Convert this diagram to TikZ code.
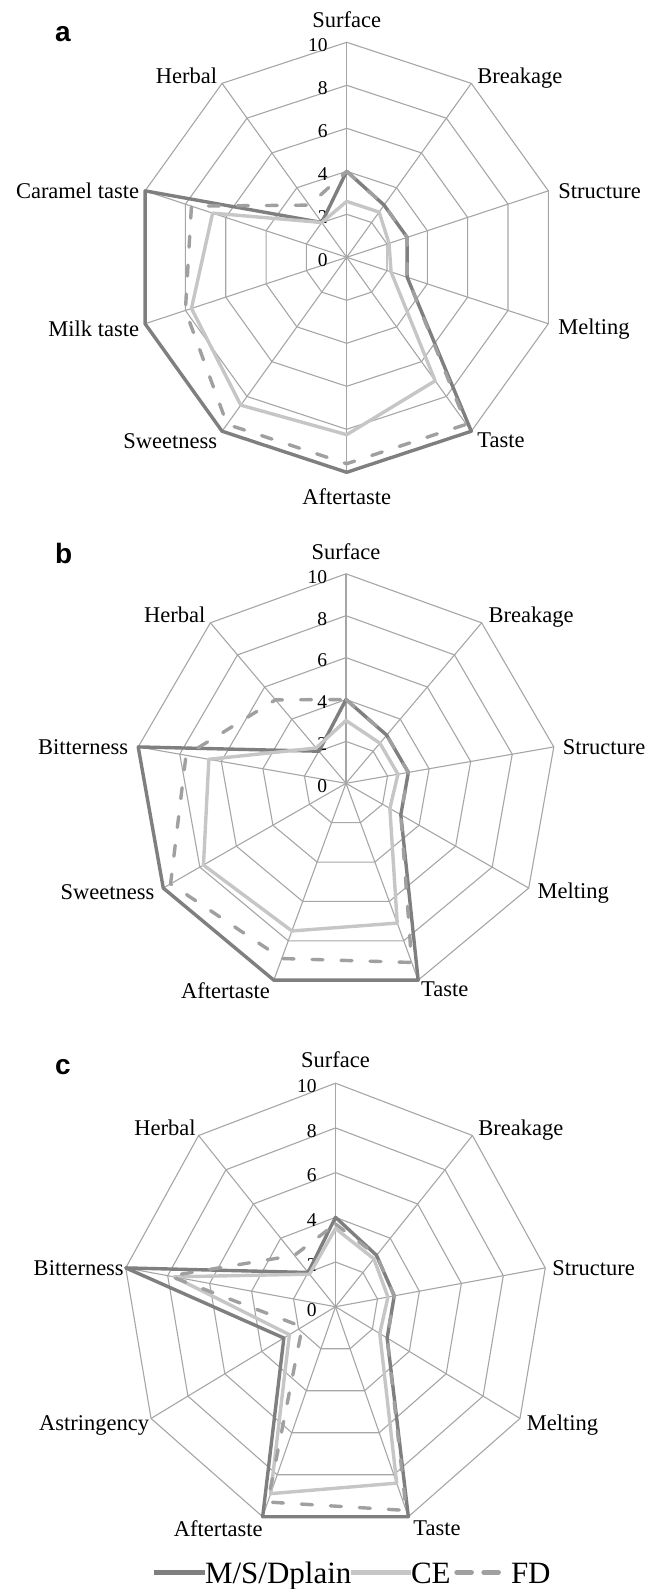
\documentclass[tikz,border=0pt]{standalone}
\usepackage{fontspec}
\setmainfont{Liberation Serif}
\newfontfamily\panelfont{Liberation Sans}

\definecolor{webgray}{HTML}{A6A6A6}
\definecolor{msdgray}{HTML}{7F7F7F}
\definecolor{cegray}{HTML}{C6C6C6}
\definecolor{fdgray}{HTML}{A0A0A0}

\begin{document}
\begin{tikzpicture}[x=1pt, y=1pt]
\tikzset{ inner sep=0pt, outer sep=0pt,
  web/.style={webgray, line width=1.1pt},
  msd/.style={msdgray, line width=3.4pt, line join=round},
  ce/.style={cegray, line width=3.4pt, line join=round},
  fd/.style={fdgray, line width=3.4pt, line cap=round, line join=round, dash pattern=on 11pt off 18pt},
  axlab/.style={font=\fontsize{22.5}{25}\selectfont},
  tick/.style={font=\fontsize{19.5}{22}\selectfont, anchor=east, xshift=-19pt, yshift=-3pt},
  panel/.style={font=\panelfont\bfseries\fontsize{28}{30}\selectfont, anchor=base west},
  leg/.style={font=\fontsize{31}{34}\selectfont, anchor=base west},
}
\useasboundingbox (0,0) rectangle (654,-1589);

%\draw [lightgray, dashed](0,0) grid (654,-1589);

% ---- a ----
\node [panel] (pa) at (55,-41.7) {a};
\begin{scope}[shift={(346.7,-257.3)}, x=21.2pt, y=21.5pt]
\foreach \r in {2,4,...,10}
  \draw [web] (90:\r) \foreach \k in {1,...,9} { -- (90-36*\k:\r) } -- cycle;
\foreach \k in {0,...,9}
  \draw [web] (0,0) -- (90-36*\k:10);
\foreach \v in {0,2,...,10}
  \node [tick] (ta\v) at (0,\v) {\v};

\node [axlab, anchor=base, yshift=15pt] (aSur) at (90:10) {Surface};
\node [axlab, anchor=base west, xshift=6pt] (aBre) at (54:10) {Breakage};
\node [axlab, anchor=west, xshift=10pt] (aStr) at (18:10) {Structure};
\node [axlab, anchor=west, xshift=10pt, yshift=-5pt] (aMel) at (-18:10) {Melting};
\node [axlab, anchor=north west, xshift=6pt, yshift=-2pt] (aTas) at (-54:10) {Taste};
\node [axlab, anchor=north, yshift=-16pt] (aAft) at (-90:10) {Aftertaste};
\node [axlab, anchor=north east, xshift=-5pt, yshift=-2pt] (aSwe) at (-126:10) {Sweetness};
\node [axlab, anchor=east, xshift=-6pt, yshift=-5pt] (aMil) at (-162:10) {Milk taste};
\node [axlab, anchor=east, xshift=-6pt] (aCar) at (162:10) {Caramel taste};
\node [axlab, anchor=base east, xshift=-5pt] (aHer) at (126:10) {Herbal};

\draw [msd] (90:4) -- (54:3) -- (18:3) -- (-18:3) -- (-54:10) -- (-90:10) -- (-126:10) -- (-162:10) -- (162:10) -- (126:2) -- cycle;
\draw [ce] (90:2.6) -- (54:2.6) -- (18:2.1) -- (-18:2.2) -- (-54:7.1) -- (-90:8.25) -- (-126:8.5) -- (-162:7.7) -- (162:6.65) -- (126:2) -- cycle;
\draw [fd] (90:4) -- (54:3) -- (18:3) -- (-18:3) -- (-54:9.6) -- (-90:9.6) -- (-126:9.6) -- (-162:8) -- (162:7.7) -- (126:3) -- cycle;
\end{scope}

% ---- b ----
\node [panel] (pb) at (55,-563) {b};
\begin{scope}[shift={(346,-783.3)}, x=21.1pt, y=20.95pt]
\foreach \r in {2,4,...,10}
  \draw [web] (90:\r) \foreach \k in {1,...,8} { -- (90-40*\k:\r) } -- cycle;
\foreach \k in {0,...,8}
  \draw [web] (0,0) -- (90-40*\k:10);
\foreach \v in {0,2,...,10}
  \node [tick] (tb\v) at (0,\v) {\v};

\node [axlab, anchor=base, yshift=14pt] (bSur) at (90:10) {Surface};
\node [axlab, anchor=base west, xshift=7pt] (bBre) at (50:10) {Breakage};
\node [axlab, anchor=west, xshift=9pt] (bStr) at (10:10) {Structure};
\node [axlab, anchor=west, xshift=9pt, yshift=-5pt] (bMel) at (-30:10) {Melting};
\node [axlab, anchor=north west, xshift=3pt, yshift=-2pt] (bTas) at (-70:10) {Taste};
\node [axlab, anchor=north east, xshift=-4pt, yshift=-2pt] (bAft) at (-110:10) {Aftertaste};
\node [axlab, anchor=east, xshift=-9pt, yshift=-4pt] (bSwe) at (-150:10) {Sweetness};
\node [axlab, anchor=east, xshift=-10pt] (bBit) at (170:10) {Bitterness};
\node [axlab, anchor=base east, xshift=-5pt] (bHer) at (130:10) {Herbal};

\draw [msd] (90:4) -- (50:3) -- (10:3) -- (-30:3) -- (-70:10) -- (-110:10) -- (-150:10) -- (170:10) -- (130:2) -- cycle;
\draw [ce] (90:3) -- (50:2.5) -- (10:2.5) -- (-30:2.4) -- (-70:7.1) -- (-110:7.5) -- (-150:7.8) -- (170:6.6) -- (130:2.2) -- cycle;
\draw [fd] (90:4) -- (50:3) -- (10:3) -- (-30:3) -- (-70:9.1) -- (-110:8.9) -- (-150:9.6) -- (170:7.7) -- (130:5.2) -- cycle;
\end{scope}

% ---- c ----
\node [panel] (pc) at (55,-1074.4) {c};
\begin{scope}[shift={(335.5,-1306.7)}, x=21.3pt, y=22.35pt]
\foreach \r in {2,4,...,10}
  \draw [web] (90:\r) \foreach \k in {1,...,8} { -- (90-40*\k:\r) } -- cycle;
\foreach \k in {0,...,8}
  \draw [web] (0,0) -- (90-40*\k:10);
\foreach \v in {0,2,...,10}
  \node [tick] (tc\v) at (0,\v) {\v};

\node [axlab, anchor=base, yshift=16pt] (cSur) at (90:10) {Surface};
\node [axlab, anchor=base west, xshift=6pt] (cBre) at (50:10) {Breakage};
\node [axlab, anchor=west, xshift=7pt] (cStr) at (10:10) {Structure};
\node [axlab, anchor=west, xshift=7pt, yshift=-7pt] (cMel) at (-30:10) {Melting};
\node [axlab, anchor=north west, xshift=5pt, yshift=-4pt] (cTas) at (-70:10) {Taste};
\node [axlab, anchor=north east, yshift=-4pt] (cAft) at (-110:10) {Aftertaste};
\node [axlab, anchor=east, xshift=-2pt, yshift=-7pt] (cAst) at (-150:10) {Astringency};
\node [axlab, anchor=east, xshift=-2pt] (cBit) at (170:10) {Bitterness};
\node [axlab, anchor=base east, xshift=-3pt] (cHer) at (130:10) {Herbal};

\draw [msd] (90:4) -- (50:3) -- (10:2.8) -- (-30:2.8) -- (-70:10) -- (-110:10) -- (-150:2.8) -- (170:10) -- (130:2) -- cycle;
\draw [ce] (90:3.5) -- (50:2.8) -- (10:2.5) -- (-30:2.4) -- (-70:8.4) -- (-110:8.9) -- (-150:2.5) -- (170:7.7) -- (130:1.9) -- cycle;
\draw [fd] (90:3.7) -- (50:3) -- (10:2.8) -- (-30:2.8) -- (-70:9.7) -- (-110:9.3) -- (-150:1.8) -- (170:7.9) -- (130:3) -- cycle;
\end{scope}

% ---- legend ----
\coordinate (lg0) at (154,-1572.3);
\node [leg] (lgMSD) at (205,-1583) {M/S/Dplain};
\node [leg] (lgCE) at (411,-1583) {CE};
\node [leg] (lgFD) at (511,-1583) {FD};
\draw [msd, line width=4.5pt] (lg0) -- (lg0 -| lgMSD.west);
\draw [ce, line width=4.5pt] (lg0 -| lgMSD.east) -- (lg0 -| lgCE.west);
\draw [fd, line width=4.5pt, dash pattern=on 15pt off 12pt] ([xshift=6pt]lg0 -| lgCE.east) -- ([xshift=-4pt]lg0 -| lgFD.west);

\end{tikzpicture}
\end{document}
